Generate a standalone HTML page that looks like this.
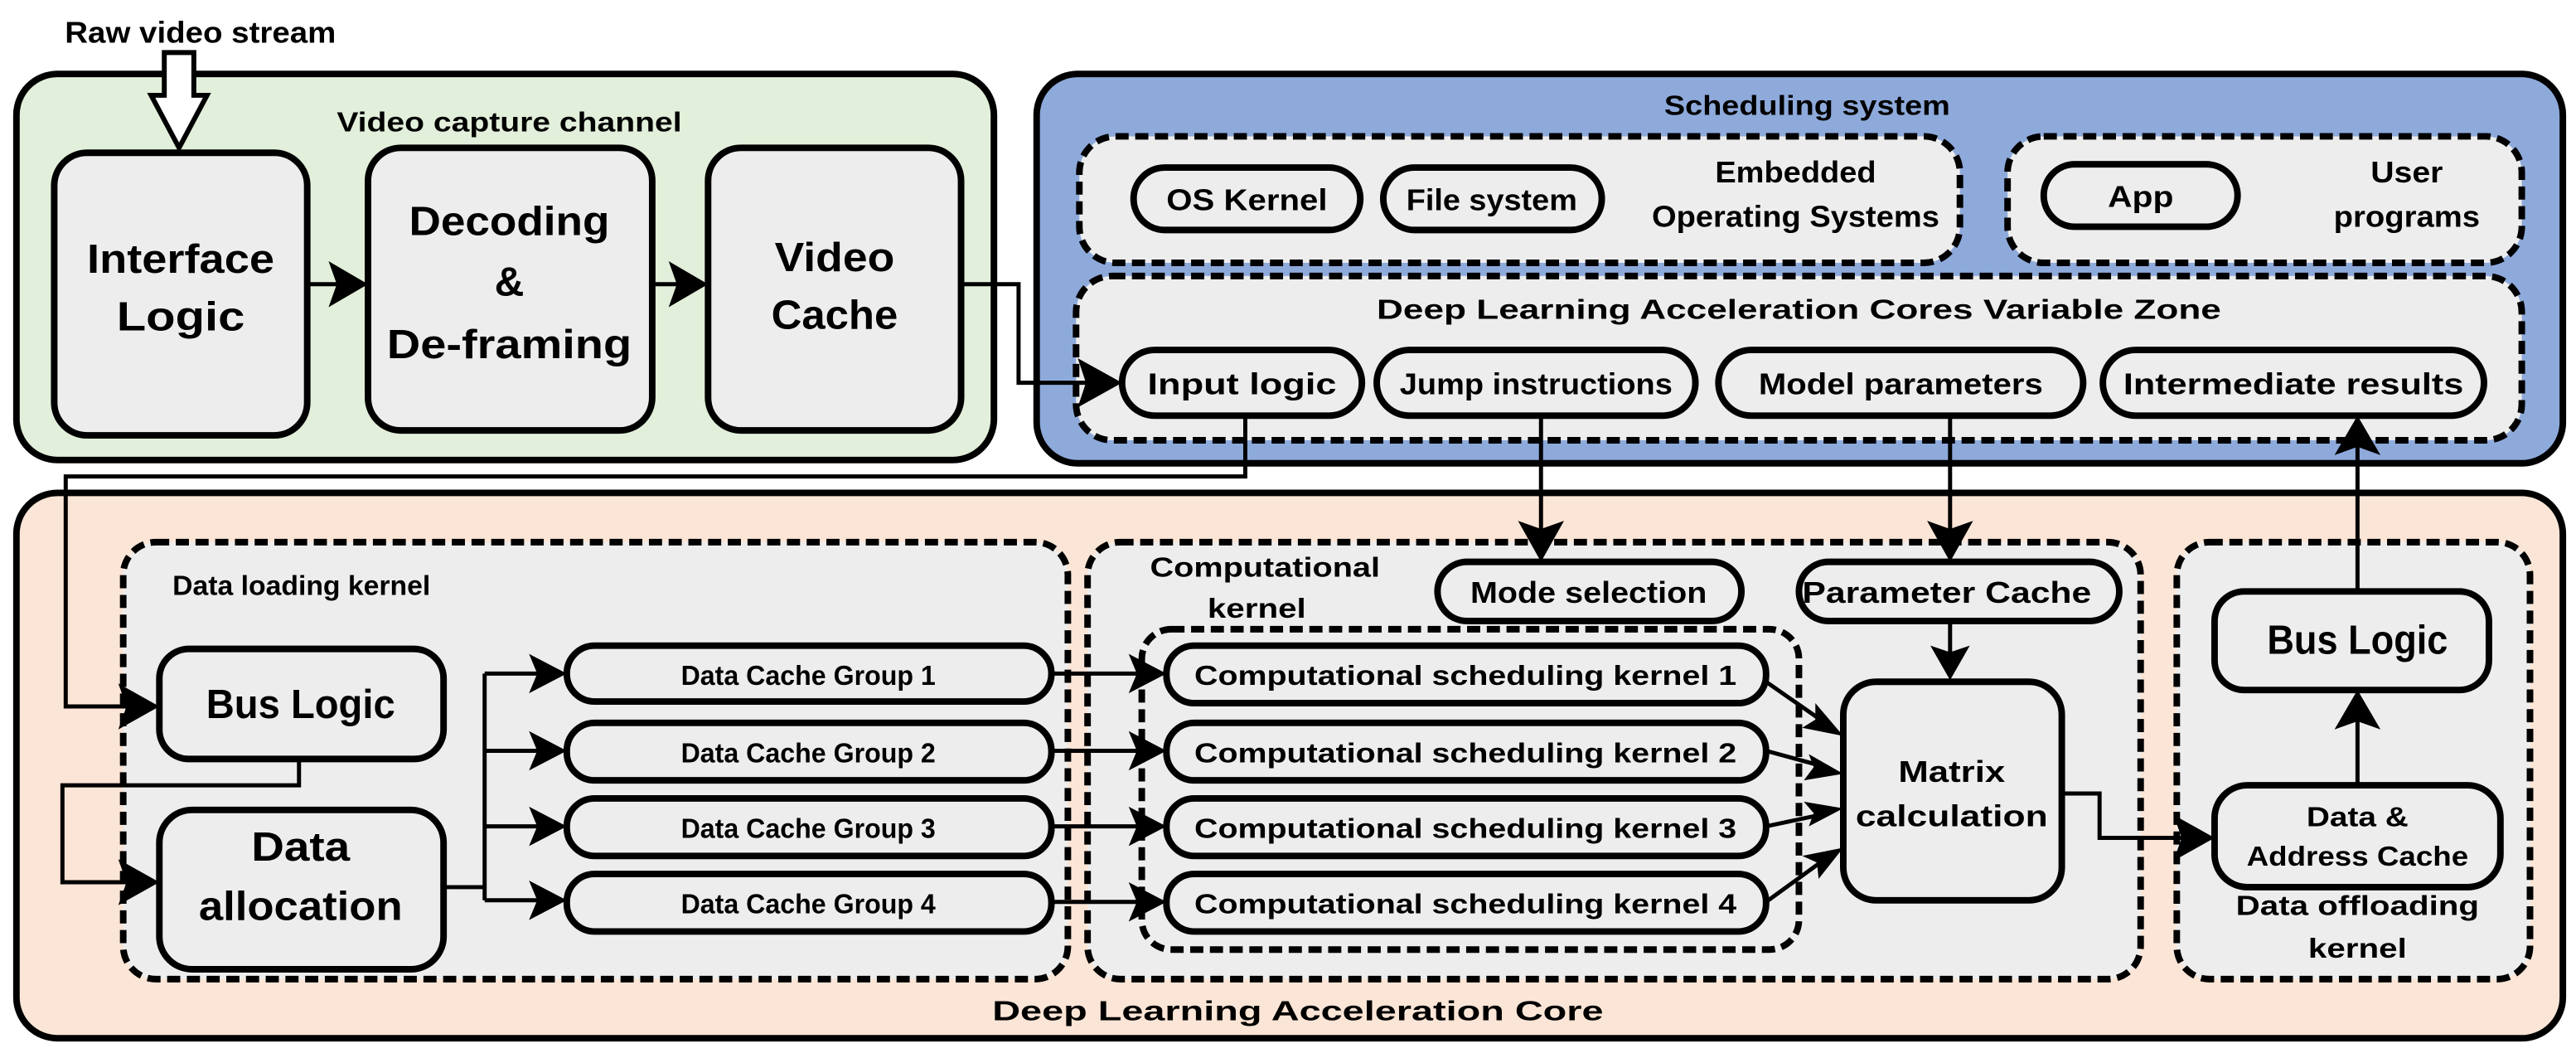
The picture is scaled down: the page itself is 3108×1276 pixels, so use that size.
<!DOCTYPE html>
<html><head><meta charset="utf-8"><style>
html,body{margin:0;padding:0;background:#fff;}
svg{display:block;}
text{font-family:"Liberation Sans",sans-serif;font-weight:bold;fill:#000;}
</style></head><body>
<svg width="3108" height="1276" viewBox="0 0 1568 644" preserveAspectRatio="none" xmlns="http://www.w3.org/2000/svg">
<g stroke="#000" stroke-width="4">
<rect x="10" y="45" width="595" height="235" rx="25" fill="#e2efda"/>
<rect x="631" y="45" width="929" height="237" rx="25" fill="#8eaadb"/>
<rect x="10" y="300" width="1550" height="332" rx="25" fill="#fbe5d6"/>
</g>
<g stroke="#000" stroke-width="4" stroke-dasharray="8,4" fill="#ededed">
<rect x="657" y="83" width="536" height="77" rx="22"/>
<rect x="1222" y="83" width="313" height="77" rx="22"/>
<rect x="655" y="168" width="880" height="100" rx="22"/>
<rect x="75" y="330" width="575" height="266" rx="20"/>
<rect x="662" y="330" width="641" height="266" rx="20"/>
<rect x="1325" y="330" width="215" height="266" rx="20"/>
<rect x="695" y="383" width="400" height="195" rx="18" fill="none"/>
</g>
<g stroke="#000" stroke-width="4" fill="#ededed">
<rect x="33" y="93" width="154" height="172" rx="20"/>
<rect x="224" y="90" width="173" height="172" rx="20"/>
<rect x="431" y="90" width="154" height="172" rx="20"/>
<rect x="690" y="102" width="138" height="38" rx="19"/>
<rect x="842" y="102" width="133" height="38" rx="19"/>
<rect x="1244" y="100" width="118" height="38" rx="19"/>
<rect x="683" y="213" width="146" height="40" rx="20"/>
<rect x="838" y="213" width="194" height="40" rx="20"/>
<rect x="1046" y="213" width="222" height="40" rx="20"/>
<rect x="1280" y="213" width="232" height="40" rx="20"/>
<rect x="97" y="395" width="173" height="67" rx="18"/>
<rect x="97" y="493" width="173" height="97" rx="20"/>
<rect x="345" y="393" width="295" height="34" rx="17"/>
<rect x="345" y="440" width="295" height="35" rx="17"/>
<rect x="345" y="486" width="295" height="35" rx="17"/>
<rect x="345" y="532" width="295" height="35" rx="17"/>
<rect x="875" y="342" width="185" height="36" rx="18"/>
<rect x="1095" y="342" width="195" height="36" rx="18"/>
<rect x="710" y="393" width="365" height="35" rx="17"/>
<rect x="710" y="440" width="365" height="35" rx="17"/>
<rect x="710" y="486" width="365" height="35" rx="17"/>
<rect x="710" y="532" width="365" height="35" rx="17"/>
<rect x="1122" y="415" width="133" height="133" rx="20"/>
<rect x="1348" y="360" width="167" height="60" rx="18"/>
<rect x="1348" y="478" width="174" height="62" rx="20"/>
</g>
<path d="M100 32 H118 V58 H126 L109 90 L92 58 H100 Z" fill="#fff" stroke="#000" stroke-width="3"/>
<g stroke="#000" stroke-width="2.5" fill="none">
<path d="M187 173 H210"/>
<path d="M397 173 H418"/>
<path d="M585 173 H620 V233 H665"/>
<path d="M758 253 V290 H40 V430 H80"/>
<path d="M182 462 V478 H38 V537 H80"/>
<path d="M270 540 H295 M295 410 V548 M295 410 H328 M295 457 H328 M295 503 H328 M295 548 H328"/>
<path d="M640 410 H692 M640 457 H692 M640 503 H692 M640 549 H692"/>
<path d="M1075 415 L1108 438 M1075 457 L1108 466 M1075 503 L1108 496 M1075 549 L1108 525"/>
<path d="M938 253 V325 M1187 253 V325 M1187 378 V400"/>
<path d="M1255 483 H1278 V510 H1330"/>
<path d="M1435 478 V436 M1435 360 V270"/>
</g>
<g fill="#000">
<path d="M224 173 L200 159 L205 173 L200 187 Z"/>
<path d="M431 173 L407 159 L412 173 L407 187 Z"/>
<path d="M683 233 L656 218 L661 233 L656 248 Z"/>
<path d="M97 430 L72 416 L77 430 L72 444 Z"/>
<path d="M97 537 L72 523 L77 537 L72 551 Z"/>
<path d="M345 410 L322 398 L327 410 L322 422 Z"/>
<path d="M345 457 L322 445 L327 457 L322 469 Z"/>
<path d="M345 503 L322 491 L327 503 L322 515 Z"/>
<path d="M345 548 L322 536 L327 548 L322 560 Z"/>
<path d="M710 410 L687 398 L692 410 L687 422 Z"/>
<path d="M710 457 L687 445 L692 457 L687 469 Z"/>
<path d="M710 503 L687 491 L692 503 L687 515 Z"/>
<path d="M710 549 L687 537 L692 549 L687 561 Z"/>
<path d="M1122 448 L1097 443 L1105 438 L1105 428 Z"/>
<path d="M1122 471 L1098 475 L1104 467 L1101 459 Z"/>
<path d="M1122 492 L1101 503 L1104 495 L1098 488 Z"/>
<path d="M1122 516 L1107 535 L1106 525 L1097 521 Z"/>
<path d="M938 342 L924 317 L938 322 L952 317 Z"/>
<path d="M1187 342 L1173 317 L1187 322 L1201 317 Z"/>
<path d="M1187 414 L1175 393 L1187 397 L1199 393 Z"/>
<path d="M1348 510 L1323 496 L1328 510 L1323 524 Z"/>
<path d="M1435 420 L1421 444 L1435 439 L1449 444 Z"/>
<path d="M1435 253 L1421 277 L1435 272 L1449 277 Z"/>
</g>
<g text-anchor="middle" lengthAdjust="spacingAndGlyphs">
<text x="122" y="26" font-size="18" textLength="165" lengthAdjust="spacingAndGlyphs">Raw video stream</text>
<text x="310" y="80" font-size="17" textLength="210" lengthAdjust="spacingAndGlyphs">Video capture channel</text>
<text x="110" y="166" font-size="25" textLength="114" lengthAdjust="spacingAndGlyphs">Interface</text>
<text x="110" y="201" font-size="25" textLength="78" lengthAdjust="spacingAndGlyphs">Logic</text>
<text x="310" y="143" font-size="25" textLength="122" lengthAdjust="spacingAndGlyphs">Decoding</text>
<text x="310" y="180" font-size="25">&amp;</text>
<text x="310" y="218" font-size="25" textLength="149" lengthAdjust="spacingAndGlyphs">De-framing</text>
<text x="508" y="165" font-size="25" textLength="73" lengthAdjust="spacingAndGlyphs">Video</text>
<text x="508" y="200" font-size="25" textLength="77" lengthAdjust="spacingAndGlyphs">Cache</text>
<text x="1100" y="70" font-size="17" textLength="174" lengthAdjust="spacingAndGlyphs">Scheduling system</text>
<text x="759" y="128" font-size="18" textLength="98" lengthAdjust="spacingAndGlyphs">OS Kernel</text>
<text x="908" y="128" font-size="18" textLength="104" lengthAdjust="spacingAndGlyphs">File system</text>
<text x="1093" y="111" font-size="18" textLength="98" lengthAdjust="spacingAndGlyphs">Embedded</text>
<text x="1093" y="138" font-size="18" textLength="175" lengthAdjust="spacingAndGlyphs">Operating Systems</text>
<text x="1303" y="126" font-size="18" textLength="40" lengthAdjust="spacingAndGlyphs">App</text>
<text x="1465" y="111" font-size="18" textLength="44" lengthAdjust="spacingAndGlyphs">User</text>
<text x="1465" y="138" font-size="18" textLength="89" lengthAdjust="spacingAndGlyphs">programs</text>
<text x="1095" y="194" font-size="17" textLength="514" lengthAdjust="spacingAndGlyphs">Deep Learning Acceleration Cores Variable Zone</text>
<text x="756" y="240" font-size="18" textLength="115" lengthAdjust="spacingAndGlyphs">Input logic</text>
<text x="935" y="240" font-size="18" textLength="166" lengthAdjust="spacingAndGlyphs">Jump instructions</text>
<text x="1157" y="240" font-size="18" textLength="173" lengthAdjust="spacingAndGlyphs">Model parameters</text>
<text x="1396" y="240" font-size="18" textLength="207" lengthAdjust="spacingAndGlyphs">Intermediate results</text>
<text x="183" y="437" font-size="25" textLength="115" lengthAdjust="spacingAndGlyphs">Bus Logic</text>
<text x="183" y="524" font-size="25" textLength="60" lengthAdjust="spacingAndGlyphs">Data</text>
<text x="183" y="560" font-size="25" textLength="124" lengthAdjust="spacingAndGlyphs">allocation</text>
<text x="492" y="417" font-size="17" textLength="155" lengthAdjust="spacingAndGlyphs">Data Cache Group 1</text>
<text x="492" y="464" font-size="17" textLength="155" lengthAdjust="spacingAndGlyphs">Data Cache Group 2</text>
<text x="492" y="510" font-size="17" textLength="155" lengthAdjust="spacingAndGlyphs">Data Cache Group 3</text>
<text x="492" y="556" font-size="17" textLength="155" lengthAdjust="spacingAndGlyphs">Data Cache Group 4</text>
<text x="967" y="367" font-size="18" textLength="144" lengthAdjust="spacingAndGlyphs">Mode selection</text>
<text x="1185" y="367" font-size="18" textLength="176" lengthAdjust="spacingAndGlyphs">Parameter Cache</text>
<text x="892" y="417" font-size="17" textLength="330" lengthAdjust="spacingAndGlyphs">Computational scheduling kernel 1</text>
<text x="892" y="464" font-size="17" textLength="330" lengthAdjust="spacingAndGlyphs">Computational scheduling kernel 2</text>
<text x="892" y="510" font-size="17" textLength="330" lengthAdjust="spacingAndGlyphs">Computational scheduling kernel 3</text>
<text x="892" y="556" font-size="17" textLength="330" lengthAdjust="spacingAndGlyphs">Computational scheduling kernel 4</text>
<text x="1188" y="476" font-size="18" textLength="65" lengthAdjust="spacingAndGlyphs">Matrix</text>
<text x="1188" y="503" font-size="18" textLength="117" lengthAdjust="spacingAndGlyphs">calculation</text>
<text x="1435" y="398" font-size="25" textLength="110" lengthAdjust="spacingAndGlyphs">Bus Logic</text>
<text x="1435" y="503" font-size="17" textLength="62" lengthAdjust="spacingAndGlyphs">Data &amp;</text>
<text x="1435" y="527" font-size="17" textLength="135" lengthAdjust="spacingAndGlyphs">Address Cache</text>
<text x="1435" y="557" font-size="17" textLength="148" lengthAdjust="spacingAndGlyphs">Data offloading</text>
<text x="1435" y="583" font-size="17" textLength="60" lengthAdjust="spacingAndGlyphs">kernel</text>
<text x="790" y="621" font-size="17" textLength="372" lengthAdjust="spacingAndGlyphs">Deep Learning Acceleration Core</text>
<text x="770" y="351" font-size="17" textLength="140" lengthAdjust="spacingAndGlyphs">Computational</text>
<text x="765" y="376" font-size="17" textLength="60" lengthAdjust="spacingAndGlyphs">kernel</text>
</g>
<text x="105" y="362" font-size="17" textLength="157" lengthAdjust="spacingAndGlyphs">Data loading kernel</text>
</svg>
</body></html>
